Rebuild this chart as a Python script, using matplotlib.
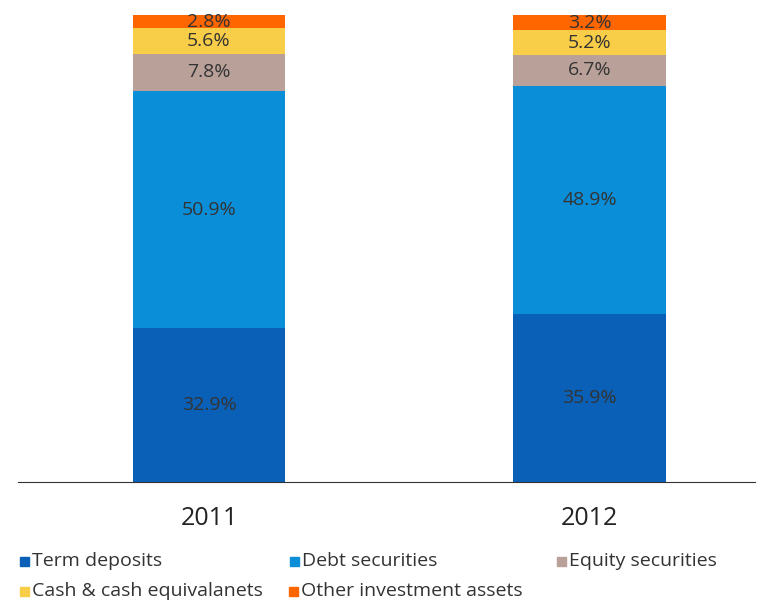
import matplotlib.pyplot as plt
from matplotlib.patches import Rectangle

plt.rcParams['font.family'] = ['Open Sans', 'DejaVu Sans']

years = ['2011', '2012']
term_deposits = [32.9, 35.9]
debt_securities = [50.9, 48.9]
equity_securities = [7.8, 6.7]
cash_equivalents = [5.6, 5.2]
other_assets = [2.8, 3.2]

series = [
    ('Term deposits', term_deposits, '#0a60b6'),
    ('Debt securities', debt_securities, '#0a8ed8'),
    ('Equity securities', equity_securities, '#b9a199'),
    ('Cash & cash equivalanets', cash_equivalents, '#f8cd48'),
    ('Other investment assets', other_assets, '#ff6600'),
]

W, H = 759, 602
fig = plt.figure(figsize=(W / 100, H / 100), dpi=100)
ax = fig.add_axes([18 / W, 1 - 482 / H, 737 / W, 467 / H])

x = list(range(len(years)))
bottom = [0.0] * len(years)
for name, vals, col in series:
    ax.bar(x, vals, width=0.4, bottom=bottom, color=col, label=name)
    for i, v in enumerate(vals):
        ax.text(x[i], bottom[i] + v / 2, f'{v:.1f}%', ha='center', va='center',
                fontsize=14, color='#333333')
    bottom = [b + v for b, v in zip(bottom, vals)]

ax.set_xlim(-0.502, 1.435)
ax.set_ylim(0, 100)
for s in ['top', 'right', 'left']:
    ax.spines[s].set_visible(False)
ax.spines['bottom'].set_color('#333333')
ax.set_yticks([])
ax.set_xticks(x)
ax.set_xticklabels(years, fontsize=18, color='#222222')
ax.tick_params(axis='x', length=0, pad=17)

# legend laid out by hand: two rows, three columns
legend_pos = [(20, 561), (290, 561), (557, 561), (20, 591), (289, 591)]
sq = 9
for (name, _, col), (px, py) in zip(series, legend_pos):
    fig.patches.append(Rectangle((px / W, 1 - (py + sq / 2) / H), sq / W, sq / H,
                                 transform=fig.transFigure, color=col))
    fig.text((px + sq + 3) / W, 1 - py / H, name, ha='left', va='center',
             fontsize=14, color='#333333')

fig.savefig('out.png', dpi=100)
